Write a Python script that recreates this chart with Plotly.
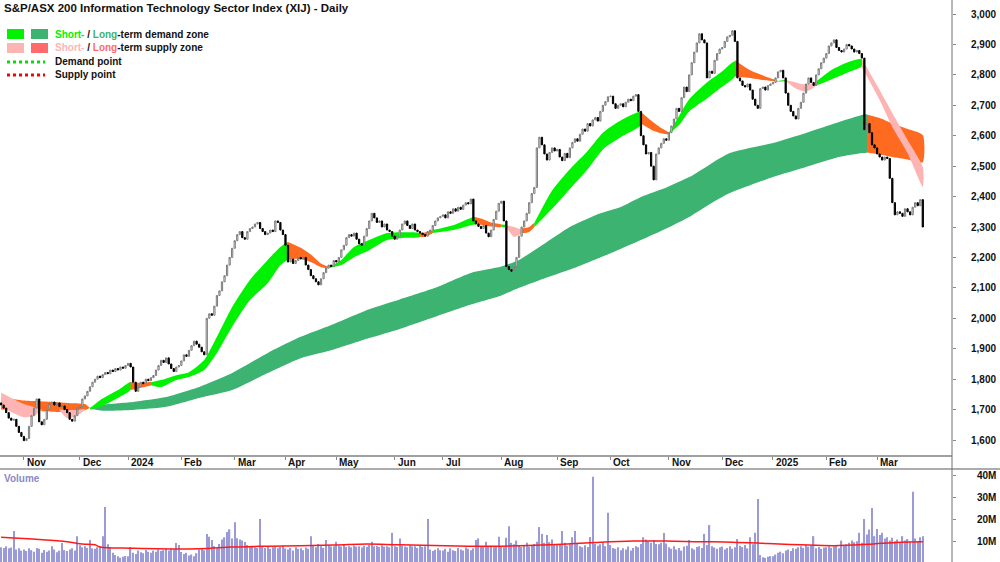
import pandas as pd
import plotly.graph_objects as go

# ---------------- calendar ----------------
holidays = ["2023-12-25", "2023-12-26", "2024-01-01", "2024-01-26", "2024-03-29", "2024-04-01",
            "2024-04-25", "2024-06-10", "2024-12-25", "2024-12-26", "2025-01-01", "2025-01-27"]
dates = [d for d in pd.bdate_range("2023-10-19", "2025-03-27") if d.strftime("%Y-%m-%d") not in holidays]

# ---------------- daily closes ----------------
close_oct23 = [1715, 1705, 1690, 1672, 1665, 1668, 1645, 1625, 1612]
close_nov23 = [1598, 1605, 1645, 1680, 1705, 1735, 1660, 1650, 1668, 1700, 1720, 1725, 1715, 1722, 1710,
               1712, 1700, 1690, 1668, 1662, 1680, 1705]
close_dec23 = [1710, 1735, 1745, 1760, 1775, 1790, 1800, 1810, 1805, 1815, 1822, 1818, 1830, 1825, 1835,
               1830, 1840, 1836, 1845]
close_jan24 = [1852, 1840, 1790, 1760, 1775, 1790, 1785, 1800, 1795, 1805, 1812, 1830, 1845, 1862, 1855,
               1870, 1850, 1835, 1825, 1840, 1845]
close_feb24 = [1860, 1880, 1875, 1895, 1910, 1925, 1915, 1905, 1890, 1880, 2000, 2015, 2010, 2040, 2075,
               2090, 2120, 2140, 2175, 2200, 2230]
close_mar24 = [2255, 2275, 2285, 2265, 2260, 2285, 2295, 2300, 2310, 2315, 2295, 2285, 2275, 2280, 2290,
               2285, 2320, 2315, 2290, 2275]
close_apr24 = [2240, 2185, 2195, 2180, 2190, 2200, 2195, 2200, 2175, 2160, 2140, 2130, 2120, 2110, 2130,
               2150, 2165, 2175, 2170, 2190]
close_may24 = [2185, 2200, 2225, 2240, 2265, 2275, 2270, 2280, 2260, 2245, 2240, 2270, 2295, 2320, 2345,
               2330, 2315, 2320, 2300, 2310, 2290, 2285, 2270]
close_jun24 = [2260, 2270, 2290, 2310, 2320, 2305, 2295, 2310, 2290, 2285, 2280, 2275, 2270, 2285, 2290,
               2305, 2320, 2330, 2335]
close_jul24 = [2340, 2330, 2350, 2345, 2360, 2352, 2365, 2358, 2372, 2380, 2376, 2392, 2320, 2310, 2302,
               2295, 2305, 2280, 2268, 2290, 2325, 2352, 2378]
close_aug24 = [2385, 2320, 2170, 2160, 2155, 2170, 2200, 2270, 2300, 2320, 2345, 2380, 2410, 2430, 2560,
               2595, 2570, 2540, 2520, 2545, 2560, 2550]
close_sep24 = [2555, 2530, 2518, 2542, 2528, 2560, 2578, 2590, 2582, 2605, 2622, 2615, 2640, 2632, 2652,
               2660, 2648, 2680, 2700, 2712, 2728]
close_oct24 = [2730, 2705, 2690, 2700, 2705, 2695, 2710, 2720, 2715, 2730, 2735, 2680, 2600, 2570, 2540,
               2545, 2500, 2455, 2540, 2560, 2575, 2590, 2585]
close_nov24 = [2610, 2632, 2655, 2690, 2680, 2725, 2760, 2745, 2800, 2840, 2875, 2905, 2935, 2915, 2905,
               2790, 2812, 2805, 2848, 2870, 2885]
close_dec24 = [2890, 2910, 2925, 2930, 2945, 2910, 2790, 2780, 2765, 2760, 2770, 2750, 2720, 2700, 2690,
               2755, 2760, 2750, 2765, 2770]
close_jan25 = [2775, 2790, 2810, 2815, 2790, 2740, 2700, 2680, 2665, 2655, 2690, 2710, 2740, 2770, 2790,
               2775, 2765, 2800, 2820, 2840, 2855]
close_feb25 = [2870, 2895, 2905, 2915, 2890, 2880, 2875, 2885, 2900, 2895, 2885, 2875, 2880, 2870, 2855,
               2620, 2640, 2610, 2570, 2560]
close_mar25 = [2540, 2530, 2520, 2530, 2525, 2460, 2380, 2340, 2350, 2345, 2335, 2360, 2350, 2340, 2365,
               2380, 2370, 2390, 2300]
first_open = 1722

close = (close_oct23 + close_nov23 + close_dec23 + close_jan24 + close_feb24 + close_mar24 + close_apr24 +
         close_may24 + close_jun24 + close_jul24 + close_aug24 + close_sep24 + close_oct24 + close_nov24 +
         close_dec24 + close_jan25 + close_feb25 + close_mar25)

# ---------------- daily volume, millions ----------------
vol_oct23 = [7.5, 7.2, 8.0, 7.0, 7.4, 14.8, 6.5, 7.0, 6.0]
vol_nov23 = [6.5, 5.8, 7.0, 6.2, 5.5, 7.2, 6.8, 5.0, 6.3, 5.5, 6.0, 8.0, 6.5, 5.2, 6.0, 9.4, 6.2, 5.8, 6.5,
             7.0, 6.0, 12.5]
vol_dec23 = [8.4, 7.5, 8.0, 7.2, 10.8, 7.0, 6.8, 7.5, 7.8, 12.5, 25.6, 8.8, 7.5, 5.0, 4.0, 3.5, 2.8, 3.2, 3.6]
vol_jan24 = [3.5, 7.6, 5.0, 4.5, 6.0, 5.2, 4.8, 6.3, 5.5, 5.0, 6.0, 5.5, 6.5, 5.8, 6.2, 6.8, 6.0, 7.0, 6.5,
             9.4, 8.5]
vol_feb24 = [5.4, 4.5, 5.0, 3.8, 4.2, 3.5, 4.8, 6.5, 7.0, 6.2, 13.5, 12.2, 10.8, 8.0, 7.0, 9.0, 11.0, 12.0,
             14.4, 15.6, 11.5]
vol_mar24 = [18.8, 11.6, 11.0, 10.5, 9.9, 8.5, 7.8, 8.2, 7.5, 7.2, 20.2, 8.0, 7.2, 7.8, 6.8, 7.5, 8.0, 7.0,
             7.6, 8.2]
vol_apr24 = [7.0, 6.5, 7.2, 6.0, 7.5, 6.8, 7.0, 6.2, 7.4, 6.8, 12.5, 8.5, 7.5, 9.0, 8.0, 7.2, 10.8, 8.5,
             7.8, 8.0]
vol_may24 = [10.0, 8.2, 7.8, 8.5, 7.6, 8.0, 7.5, 8.3, 7.8, 8.0, 7.4, 8.2, 7.7, 8.5, 10.0, 7.9, 8.1, 7.6,
             8.4, 7.8, 8.0, 7.5, 14.0]
vol_jun24 = [8.0, 7.6, 11.5, 8.2, 7.8, 7.5, 8.4, 7.9, 8.0, 7.2, 8.3, 7.7, 8.0, 20.2, 6.5, 5.8, 6.4, 7.0, 6.2]
vol_jul24 = [6.0, 6.8, 5.5, 7.0, 6.2, 5.8, 7.2, 6.5, 6.0, 7.4, 6.8, 6.2, 7.0, 10.8, 11.5, 7.6, 8.0, 10.0,
             7.8, 8.2, 7.5, 8.0, 12.2]
vol_aug24 = [8.0, 7.5, 11.8, 17.0, 9.5, 8.8, 10.5, 8.2, 7.6, 8.5, 9.5, 7.8, 8.4, 9.0, 10.0, 16.6, 13.5, 9.5,
             13.0, 9.8, 11.0, 8.5]
vol_sep24 = [9.0, 8.5, 14.8, 9.5, 8.2, 8.8, 12.0, 14.8, 9.2, 8.0, 7.5, 8.4, 7.6, 12.1, 39.3, 9.0, 8.2, 8.8,
             9.5, 8.0, 23.0]
vol_oct24 = [8.5, 7.2, 6.8, 7.5, 6.2, 7.0, 6.5, 7.8, 6.0, 7.2, 8.0, 7.5, 9.0, 12.0, 11.0, 10.2, 9.5, 10.8,
             9.0, 8.8, 9.5, 13.9, 9.2]
vol_nov24 = [7.5, 6.8, 8.0, 6.5, 7.2, 6.0, 7.8, 8.2, 10.8, 7.0, 6.5, 7.6, 8.0, 7.2, 13.5, 8.5, 17.5, 8.0,
             7.4, 6.8, 7.5]
vol_dec24 = [7.8, 6.5, 7.2, 8.0, 6.8, 7.5, 11.2, 8.2, 7.6, 8.5, 7.0, 12.0, 8.8, 14.0, 29.2, 4.0, 3.0, 2.7,
             3.2, 3.5]
vol_jan25 = [3.5, 4.2, 5.0, 5.5, 4.8, 6.0, 6.5, 5.8, 7.0, 6.8, 7.5, 8.0, 7.2, 8.5, 7.8, 8.2, 12.5, 7.0,
             7.6, 6.8, 7.4]
vol_feb25 = [7.5, 8.0, 7.2, 7.8, 8.4, 7.0, 10.5, 8.2, 8.8, 9.5, 10.5, 9.8, 10.2, 14.0, 9.5, 20.2, 13.3,
             15.5, 25.2, 12.5]
vol_mar25 = [15.7, 13.0, 14.0, 11.5, 12.0, 10.5, 11.8, 10.2, 11.0, 9.8, 12.5, 10.5, 11.2, 10.0, 32.5, 11.5,
             10.2, 12.0, 12.5]
volume = (vol_oct23 + vol_nov23 + vol_dec23 + vol_jan24 + vol_feb24 + vol_mar24 + vol_apr24 + vol_may24 +
          vol_jun24 + vol_jul24 + vol_aug24 + vol_sep24 + vol_oct24 + vol_nov24 + vol_dec24 + vol_jan25 +
          vol_feb25 + vol_mar25)

# volume moving average (session index, millions)
vma_session = [0, 15, 26, 32, 37, 39, 52, 78, 91, 105, 131, 144, 157, 184, 197, 223, 236, 249, 262, 275,
               288, 302, 315, 328, 341, 354, 363]
vma_value = [12.0, 11.0, 10.0, 9.0, 8.6, 7.6, 7.1, 6.8, 7.6, 8.0, 8.5, 9.0, 8.6, 8.0, 8.0, 9.0, 9.8, 10.3,
             10.3, 10.0, 9.8, 9.2, 8.6, 8.2, 8.8, 9.8, 10.0]

# ---------------- zones (session index, upper, lower) ----------------
long_supply_a = dict(s=[0, 4, 9, 13, 20, 26, 33, 35],
                     top=[1740, 1735, 1730, 1728, 1725, 1722, 1718, 1705],
                     bot=[1700, 1698, 1696, 1695, 1693, 1692, 1698, 1705])
long_demand = dict(s=[35, 39, 52, 65, 78, 91, 105, 118, 130, 145, 157, 171, 185, 197, 204, 212, 224, 236,
                      244, 252, 262, 271, 279, 287, 304, 317, 330, 339, 341],
                   top=[1705, 1715, 1725, 1741, 1774, 1820, 1886, 1939, 1978, 2030, 2062, 2100, 2149, 2170,
                        2192, 2234, 2300, 2345, 2366, 2399, 2430, 2464, 2505, 2543, 2576, 2609, 2645, 2668,
                        2670],
                   bot=[1705, 1697, 1699, 1709, 1738, 1764, 1820, 1869, 1895, 1935, 1965, 2005, 2045, 2075,
                        2100, 2125, 2160, 2200, 2228, 2257, 2295, 2333, 2375, 2412, 2464, 2497, 2530, 2543,
                        2545])
long_supply_b = dict(s=[341, 346, 351, 357, 363],
                     top=[2670, 2658, 2640, 2622, 2602],
                     bot=[2545, 2538, 2530, 2522, 2513])

short_segments = [
    ("pink", [0, 4, 9, 13, 16], [1755, 1738, 1718, 1708, 1700], [1712, 1692, 1675, 1680, 1698]),
    ("pink", [23, 26, 30, 33], [1700, 1699, 1699, 1702], [1698, 1672, 1680, 1700]),
    ("green", [35, 39, 46, 51], [1705, 1731, 1764, 1791], [1700, 1709, 1738, 1764]),
    ("orange", [51, 55, 59], [1791, 1788, 1790], [1764, 1772, 1780]),
    ("green", [59, 63, 69, 74, 80, 85, 91, 98, 105, 110, 113],
     [1790, 1797, 1813, 1823, 1863, 1939, 2037, 2126, 2192, 2234, 2251],
     [1780, 1774, 1797, 1807, 1830, 1886, 1972, 2060, 2115, 2175, 2195]),
    ("orange", [113, 118, 122, 126, 129], [2251, 2232, 2210, 2180, 2168], [2195, 2195, 2185, 2168, 2165]),
    ("green", [129, 134, 139, 145, 152, 158, 165], [2168, 2192, 2234, 2257, 2280, 2283, 2280],
     [2165, 2175, 2201, 2224, 2257, 2264, 2267]),
    ("orange", [165, 167, 170], [2280, 2282, 2288], [2267, 2268, 2280]),
    ("green", [170, 178, 185, 187], [2290, 2306, 2330, 2332], [2280, 2290, 2306, 2310]),
    ("orange", [187, 190, 193, 197], [2332, 2325, 2315, 2308], [2310, 2306, 2302, 2300]),
    ("green", [197, 199], [2308, 2306], [2300, 2300]),
    ("pink", [199, 202, 205], [2306, 2300, 2290], [2300, 2267, 2280]),
    ("orange", [205, 208, 210], [2295, 2300, 2313], [2280, 2284, 2300]),
    ("green", [210, 217, 224, 231, 237, 244, 252], [2313, 2420, 2490, 2550, 2610, 2650, 2678],
     [2300, 2360, 2425, 2490, 2555, 2595, 2635]),
    ("orange", [252, 256, 260, 263], [2678, 2650, 2625, 2610], [2640, 2620, 2608, 2605]),
    ("green", [263, 267, 271, 278, 283, 289], [2610, 2665, 2720, 2775, 2805, 2845],
     [2605, 2635, 2680, 2722, 2755, 2795]),
    ("orange", [289, 295, 301, 306], [2848, 2815, 2795, 2780], [2795, 2790, 2782, 2778]),
    ("green", [306, 309], [2780, 2783], [2778, 2780]),
    ("pink", [309, 313, 317, 321], [2783, 2775, 2768, 2775], [2780, 2755, 2745, 2765]),
    ("green", [321, 327, 333, 339], [2778, 2816, 2840, 2852], [2765, 2785, 2806, 2828]),
    ("pink", [339, 346, 351, 357, 363], [2852, 2750, 2675, 2586, 2497], [2826, 2717, 2629, 2543, 2432]),
]

title_text = "S&amp;P/ASX 200 Information Technology Sector Index (XIJ) - Daily"
month_labels = ["Nov", "Dec", "2024", "Feb", "Mar", "Apr", "May", "Jun", "Jul", "Aug", "Sep", "Oct", "Nov",
                "Dec", "2025", "Feb", "Mar"]
price_ticks = list(range(1600, 3001, 100))
vol_ticks = [10, 20, 30, 40]

# ---------------- styles ----------------
C_SHORT_DEM = "#00F200"
C_LONG_DEM = "#3CB371"
C_ORANGE = "#FF6A21"
C_PINK = "#FFB4B4"
C_LONG_SUP_LEG = "#FF6B6B"
zone_colors = {"green": C_SHORT_DEM, "orange": C_ORANGE, "pink": C_PINK}
FONT = "Arial, Liberation Sans, sans-serif"
W, H, PLOT_W = 1000, 562, 952

assert len(dates) == len(close) == len(volume), (len(dates), len(close), len(volume))
session = list(range(len(close)))
opens = [first_open] + close[:-1]
highs = [max(o, c) for o, c in zip(opens, close)]
lows = [min(o, c) for o, c in zip(opens, close)]

month_pos = []
for i in range(1, len(dates)):
    if dates[i].month != dates[i - 1].month:
        month_pos.append(i)


def px_x(p):
    return p / PLOT_W


def px_y(p):
    return 1 - p / H


fig = go.Figure()


def add_zone(s, top, bot, color):
    fig.add_trace(go.Scatter(x=list(s) + list(s)[::-1], y=list(top) + list(bot)[::-1], fill="toself",
                             mode="lines", line=dict(width=0, shape="spline", smoothing=0.6),
                             fillcolor=color, hoverinfo="skip", showlegend=False,
                             xaxis="x", yaxis="y"))


add_zone(long_supply_a["s"], long_supply_a["top"], long_supply_a["bot"], C_ORANGE)
add_zone(long_demand["s"], long_demand["top"], long_demand["bot"], C_LONG_DEM)
add_zone(long_supply_b["s"], long_supply_b["top"], long_supply_b["bot"], C_ORANGE)
for kind, s, top, bot in short_segments:
    add_zone(s, top, bot, zone_colors[kind])

fig.add_trace(go.Candlestick(x=session, open=opens, high=highs, low=lows, close=close,
                             xaxis="x", yaxis="y3", whiskerwidth=0,
                             increasing=dict(line=dict(color="#7a7a7a", width=1), fillcolor="#ffffff"),
                             decreasing=dict(line=dict(color="#000000", width=1), fillcolor="#000000"),
                             showlegend=False, hoverinfo="skip"))

fig.add_trace(go.Bar(x=session, y=volume, xaxis="x2", yaxis="y2", marker=dict(color="#9a9ad8", line_width=0),
                     showlegend=False, hoverinfo="skip"))
fig.add_trace(go.Scatter(x=vma_session, y=vma_value, xaxis="x2", yaxis="y2", mode="lines",
                         line=dict(color="#ff1a1a", width=1.5, shape="spline"), showlegend=False,
                         hoverinfo="skip"))

xr = [-0.433, 374.5]
yr = [1550.8, 3046]
vr = [0.86, 42.75]

fig.update_layout(
    width=W, height=H, margin=dict(l=0, r=W - PLOT_W, t=0, b=0),
    paper_bgcolor="white", plot_bgcolor="white", bargap=0.5, showlegend=False,
    xaxis=dict(domain=[0, 1], range=xr, anchor="y", showline=True, linecolor="#a0a0a0", linewidth=2,
               ticks="outside", tickvals=month_pos, ticklen=3, tickcolor="#888888", showticklabels=False,
               showgrid=False, zeroline=False, rangeslider=dict(visible=False)),
    yaxis=dict(domain=[px_y(455), 1], range=yr, anchor="x", side="right", tickvals=price_ticks,
               ticks="outside", ticklen=3, tickcolor="#888888", showticklabels=False,
               showgrid=False, zeroline=False, showline=False),
    yaxis3=dict(overlaying="y", range=yr, visible=False, anchor="x"),
    xaxis2=dict(domain=[0, 1], range=xr, anchor="y2", visible=False),
    yaxis2=dict(domain=[0, px_y(469)], range=vr, anchor="x2", side="right", tickvals=vol_ticks,
                ticks="outside", ticklen=3, tickcolor="#888888", showticklabels=False,
                showgrid=False, zeroline=False, showline=False),
)

shapes = [
    dict(type="line", xref="paper", yref="paper", x0=0, x1=W / PLOT_W, y0=px_y(469), y1=px_y(469),
         line=dict(color="#909090", width=1.5)),
    dict(type="line", xref="paper", yref="paper", x0=1, x1=1, y0=0, y1=1,
         line=dict(color="#707070", width=1)),
    # legend swatches
    dict(type="rect", xref="paper", yref="paper", x0=px_x(7), x1=px_x(24), y0=px_y(39), y1=px_y(29),
         fillcolor=C_SHORT_DEM, line_width=0),
    dict(type="rect", xref="paper", yref="paper", x0=px_x(31), x1=px_x(48), y0=px_y(39), y1=px_y(29),
         fillcolor=C_LONG_DEM, line_width=0),
    dict(type="rect", xref="paper", yref="paper", x0=px_x(7), x1=px_x(24), y0=px_y(53), y1=px_y(43),
         fillcolor=C_PINK, line_width=0),
    dict(type="rect", xref="paper", yref="paper", x0=px_x(31), x1=px_x(48), y0=px_y(53), y1=px_y(43),
         fillcolor=C_LONG_SUP_LEG, line_width=0),
    dict(type="line", xref="paper", yref="paper", x0=px_x(7), x1=px_x(45), y0=px_y(62), y1=px_y(62),
         line=dict(color="#00E000", width=3, dash="dot")),
    dict(type="line", xref="paper", yref="paper", x0=px_x(7), x1=px_x(45), y0=px_y(75), y1=px_y(75),
         line=dict(color="#FF0000", width=3, dash="dot")),
]
fig.update_layout(shapes=shapes)

ann_font = dict(family=FONT, size=10, color="#111111", weight="bold")
title_font = dict(family=FONT, size=11.5, color="#111111", weight="bold")
annotations = [
    dict(text=title_text, x=px_x(2), y=px_y(8), font=title_font),
    dict(text=f"<span style='color:{C_SHORT_DEM}'>Short-</span> / <span style='color:{C_LONG_DEM}'>Long</span>-term demand zone",
         x=px_x(53), y=px_y(34), font=ann_font),
    dict(text=f"<span style='color:{C_PINK}'>Short-</span> / <span style='color:{C_LONG_SUP_LEG}'>Long</span>-term supply zone",
         x=px_x(53), y=px_y(48), font=ann_font),
    dict(text="Demand point", x=px_x(53), y=px_y(62), font=ann_font),
    dict(text="Supply point", x=px_x(53), y=px_y(75), font=ann_font),
]
anns = []
for a in annotations:
    anns.append(dict(xref="paper", yref="paper", xanchor="left", yanchor="middle", showarrow=False, **a))
anns.append(dict(text="Volume", xref="paper", yref="paper", x=px_x(2), y=px_y(478), xanchor="left",
                 yanchor="middle", showarrow=False,
                 font=dict(family=FONT, size=10, color="#8a8ac8", weight="bold")))
for pos, lab in zip(month_pos, month_labels):
    anns.append(dict(text=lab, xref="x", yref="paper", x=pos, y=px_y(462), xanchor="left",
                     yanchor="middle", xshift=1, showarrow=False, font=ann_font))
# right-aligned axis labels
for v in price_ticks:
    anns.append(dict(text=f"{v:,}", xref="paper", yref="y", x=px_x(998), y=v, xanchor="right",
                     yanchor="middle", showarrow=False, font=ann_font))
for v in vol_ticks:
    anns.append(dict(text=f"{v}M", xref="paper", yref="y2", x=px_x(998), y=v, xanchor="right",
                     yanchor="middle", showarrow=False, font=ann_font))
fig.update_layout(annotations=anns)

fig.write_html("out.html")
